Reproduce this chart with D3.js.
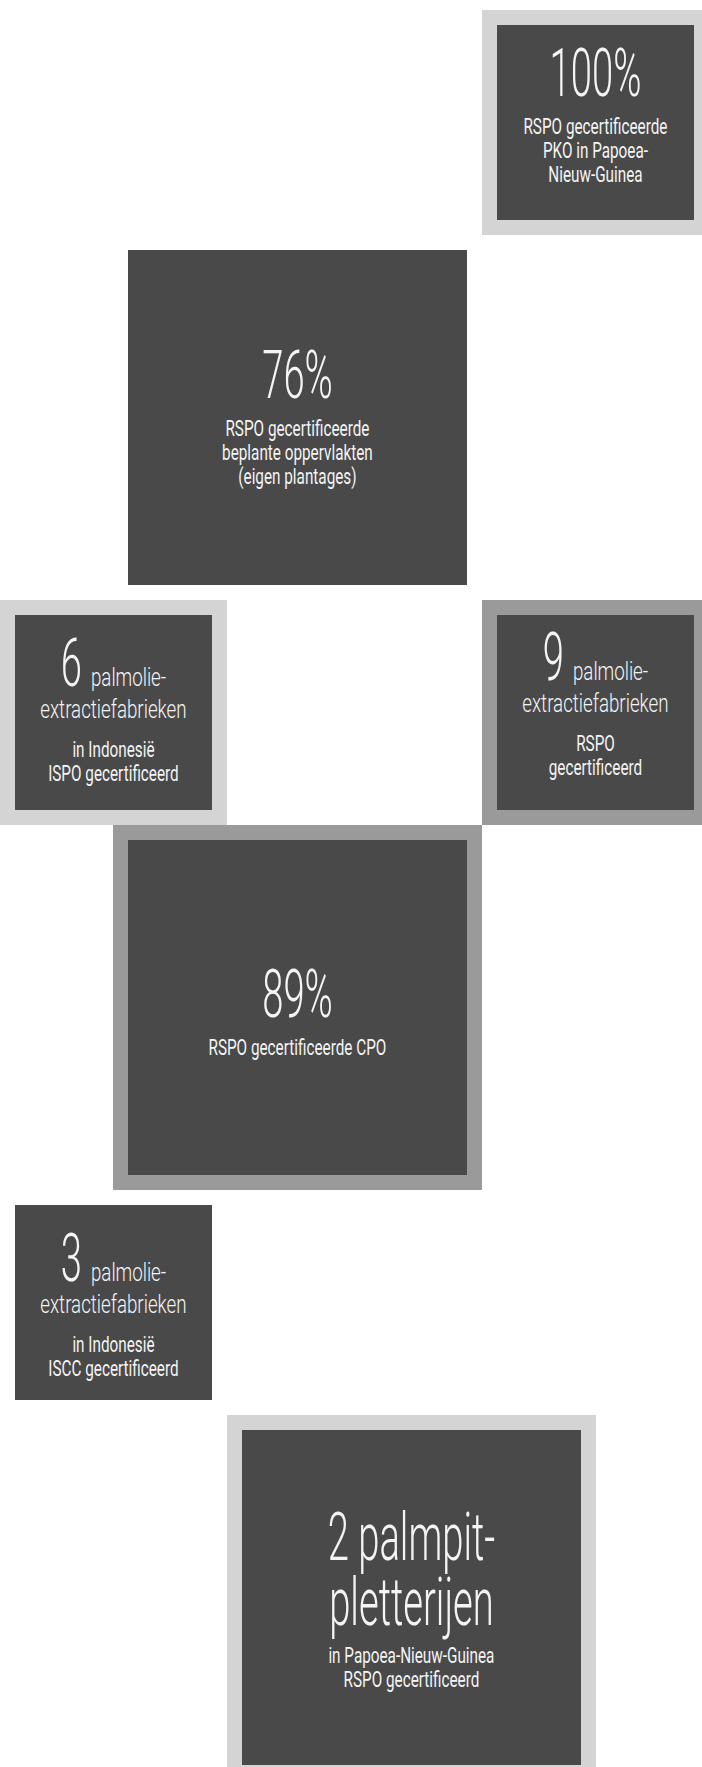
<!DOCTYPE html>
<html>
<head>
<meta charset="utf-8">
<script src="https://cdn.jsdelivr.net/npm/d3@7/dist/d3.min.js"></script>
<style>
  html, body { margin: 0; padding: 0; background: #ffffff; }
  svg { display: block; }
</style>
</head>
<body>
<svg id="chart" width="702" height="1767"></svg>
<script>
// ---------------- data ----------------
const headlines = [["100%"], ["76%"], ["6"], ["9"], ["89%"], ["3"], ["2 palmpit-", "pletterijen"]];
const units = ["", "", "palmolie-", "palmolie-", "", "palmolie-", ""];
const subUnits = ["", "", "extractiefabrieken", "extractiefabrieken", "", "extractiefabrieken", ""];
const captions = [
  ["RSPO gecertificeerde", "PKO in Papoea-", "Nieuw-Guinea"],
  ["RSPO gecertificeerde", "beplante oppervlakten", "(eigen plantages)"],
  ["in Indonesië", "ISPO gecertificeerd"],
  ["RSPO", "gecertificeerd"],
  ["RSPO gecertificeerde CPO"],
  ["in Indonesië", "ISCC gecertificeerd"],
  ["in Papoea-Nieuw-Guinea", "RSPO gecertificeerd"]
];

// ---------------- layout & style ----------------
const boxCol = ["right", "center", "left", "right", "center", "left", "mid"];
const boxSize = ["small", "big", "small", "small", "big", "small", "big"];
const boxRow = [0, 1, 2, 2, 3, 4, 5];
const rowSizes = ["small", "big", "small", "big", "small", "big"];
const frameColor = ["#d4d4d4", "#ffffff", "#d4d4d4", "#9a9a9a", "#9a9a9a", "#ffffff", "#d4d4d4"];
const firstBaseline = [71, 148, 71, 65, 177, 76, 130];

const dims = { small: { w: 227, h: 225 }, big: { w: 369, h: 365 } };
const border = 15;
const innerColor = "#494949";
const textColor = "#f4f4f4";
const headLineGap = 65;

const xPos = d3.scaleOrdinal().domain(["left", "center", "mid", "right"]).range([0, 113, 227, 482]);
const rowTops = [];
rowSizes.reduce((acc, s) => { rowTops.push(acc); return acc + dims[s].h; }, 10);
const yPos = d3.scaleOrdinal().domain(d3.range(rowSizes.length)).range(rowTops);

const FONT = "Roboto, 'Open Sans', Lato, sans-serif";
const styles = {
  head: { size: 67, weight: 300, sx: 0.57 },
  mid:  { size: 25, weight: 300, sx: 0.75 },
  body: { size: 22.5, weight: 400, sx: 0.68 }
};

const svg = d3.select("#chart");

function styleText(t, st) {
  return t.attr("font-family", FONT)
    .attr("font-size", st.size)
    .attr("font-weight", st.weight)
    .attr("fill", textColor);
}

function makeText(g, str, st) {
  const t = styleText(g.append("text").attr("x", 0).attr("y", 0), st).text(str);
  const w = t.node().getComputedTextLength() * st.sx;
  return { t, w, st };
}

function drawLine(g, segs, cx, y, gap) {
  const items = segs.map(s => makeText(g, s.str, styles[s.style]));
  const total = d3.sum(items, d => d.w) + gap * (items.length - 1);
  let x = cx - total / 2;
  items.forEach(it => {
    it.t.attr("transform", `translate(${x},${y}) scale(${it.st.sx},1)`);
    x += it.w + gap;
  });
}

headlines.forEach((head, i) => {
  const d = dims[boxSize[i]];
  const x0 = xPos(boxCol[i]);
  const y0 = yPos(boxRow[i]);
  const g = svg.append("g");
  g.append("rect").attr("x", x0).attr("y", y0).attr("width", d.w).attr("height", d.h)
    .attr("fill", frameColor[i]);
  g.append("rect").attr("x", x0 + border).attr("y", y0 + border)
    .attr("width", d.w - 2 * border).attr("height", d.h - 2 * border)
    .attr("fill", innerColor);

  const cx = x0 + d.w / 2;
  let y = y0 + border + firstBaseline[i];
  if (head.length > 1) {
    // multi-line headline: one text element with tspans
    const st = styles.head;
    const t = styleText(g.append("text"), st)
      .attr("text-anchor", "middle")
      .attr("transform", `translate(${cx},${y}) scale(${st.sx},1)`);
    t.selectAll("tspan").data(head).join("tspan")
      .attr("x", 0)
      .attr("dy", (_, k) => k === 0 ? 0 : headLineGap)
      .text(s => s);
    y += headLineGap * (head.length - 1);
  } else {
    const segs = [{ str: head[0], style: "head" }];
    if (units[i]) segs.push({ str: units[i], style: "mid" });
    drawLine(g, segs, cx, y, 9);
  }
  if (subUnits[i]) {
    y += 32;
    drawLine(g, [{ str: subUnits[i], style: "mid" }], cx, y, 0);
    y += 39;
  } else {
    y += 38;
  }
  captions[i].forEach((line, k) => {
    if (k > 0) y += 24;
    drawLine(g, [{ str: line, style: "body" }], cx, y, 0);
  });
});
</script>
</body>
</html>
